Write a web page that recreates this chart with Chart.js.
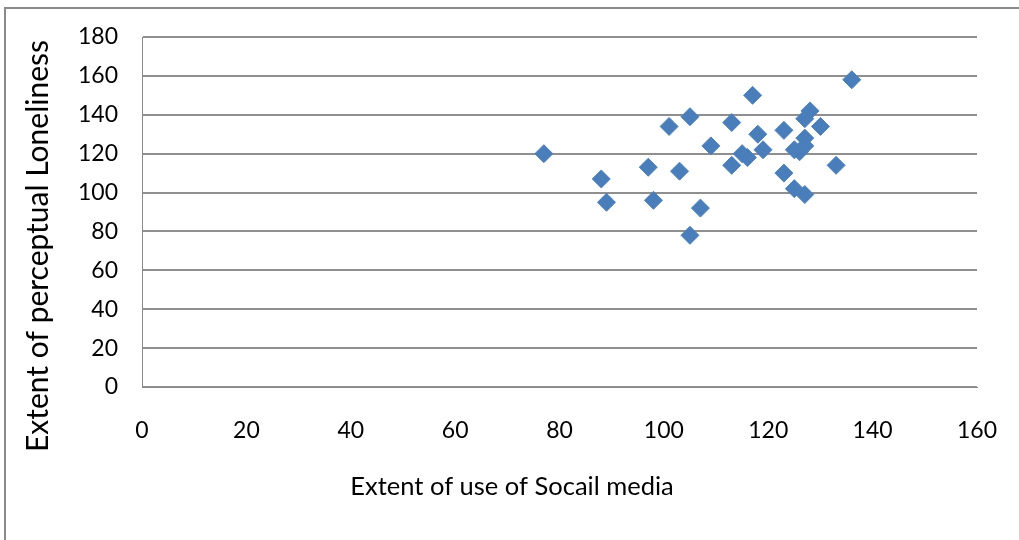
<!DOCTYPE html>
<html>
<head>
<meta charset="utf-8">
<script src="https://cdn.jsdelivr.net/npm/chart.js@4/dist/chart.umd.min.js"></script>
<style>
  html, body { margin: 0; padding: 0; background: #fff; }
  #wrap { position: relative; width: 1019px; height: 540px; overflow: hidden; }
  #frame { position: absolute; left: 4px; top: 7px; width: 1100px; height: 600px;
           border-left: 2px solid #8a8a8a; border-top: 2px solid #8a8a8a; }
  canvas { position: absolute; left: 0; top: 0; }
</style>
</head>
<body>
<div id="wrap">
  <div id="frame"></div>
  <canvas id="c" width="1019" height="540"></canvas>
</div>
<script>
// Data
const socialMediaUse = [77, 88, 89, 97, 98, 101, 103, 105, 105, 107, 109, 113, 113, 115, 116, 117, 118, 119, 123, 123, 125, 125, 126, 127, 127, 128, 127, 127, 130, 133, 136];
const perceptualLoneliness = [120, 107, 95, 113, 96, 134, 111, 139, 78, 92, 124, 136, 114, 120, 118, 150, 130, 122, 132, 110, 122, 102, 121, 124, 138, 142, 99, 128, 134, 114, 158];
const xAxisTitle = 'Extent of use of Socail media';
const yAxisTitle = 'Extent of perceptual Loneliness';

const points = socialMediaUse.map((x, i) => ({ x: x, y: perceptualLoneliness[i] }));

const PLOT_LEFT = 142, PLOT_RIGHT = 977, PLOT_TOP = 37, PLOT_BOTTOM = 387;
const W = 1019, H = 540;

// Axis titles drawn as real canvas text at the reference positions
const axisTitlePlugin = {
  id: 'axisTitles',
  afterDraw(chart) {
    const ctx = chart.ctx;
    ctx.save();
    ctx.fillStyle = '#000';
    ctx.textAlign = 'center';
    ctx.textBaseline = 'middle';
    ctx.font = '25.5px Lato';
    ctx.fillText(xAxisTitle, 512, 487);
    ctx.translate(38, 246);
    ctx.rotate(-Math.PI / 2);
    ctx.font = '30px Lato';
    ctx.fillText(yAxisTitle, 0, 0);
    ctx.restore();
  }
};

new Chart(document.getElementById('c'), {
  type: 'scatter',
  data: {
    datasets: [{
      data: points,
      pointStyle: 'rectRot',
      pointRadius: 9,
      pointHoverRadius: 9,
      backgroundColor: '#4A7EBB',
      borderColor: '#4F81BD',
      borderWidth: 1
    }]
  },
  plugins: [axisTitlePlugin],
  options: {
    responsive: false,
    animation: false,
    events: [],
    layout: { padding: { left: 0, right: W - PLOT_RIGHT, top: PLOT_TOP, bottom: 0 } },
    plugins: { legend: { display: false }, tooltip: { enabled: false } },
    scales: {
      x: {
        type: 'linear',
        min: 0, max: 160,
        ticks: { stepSize: 20, color: '#000', padding: 30, maxRotation: 0,
                 font: { family: 'Lato', size: 23 } },
        grid: { display: false, drawTicks: false },
        border: { display: true, color: '#8a8a8a', width: 1 },
        title: { display: false },
        afterFit: (s) => { s.height = H - PLOT_BOTTOM; s.paddingLeft = 0; s.paddingRight = 0; }
      },
      y: {
        type: 'linear',
        min: 0, max: 180,
        ticks: { stepSize: 20, color: '#000', padding: 24,
                 font: { family: 'Lato', size: 23 } },
        grid: { display: true, drawTicks: false, color: '#8f8f8f', lineWidth: 2 },
        border: { display: true, color: '#8a8a8a', width: 1 },
        title: { display: false },
        afterFit: (s) => { s.width = PLOT_LEFT; s.paddingTop = 0; s.paddingBottom = 0; }
      }
    }
  }
});
</script>
</body>
</html>
